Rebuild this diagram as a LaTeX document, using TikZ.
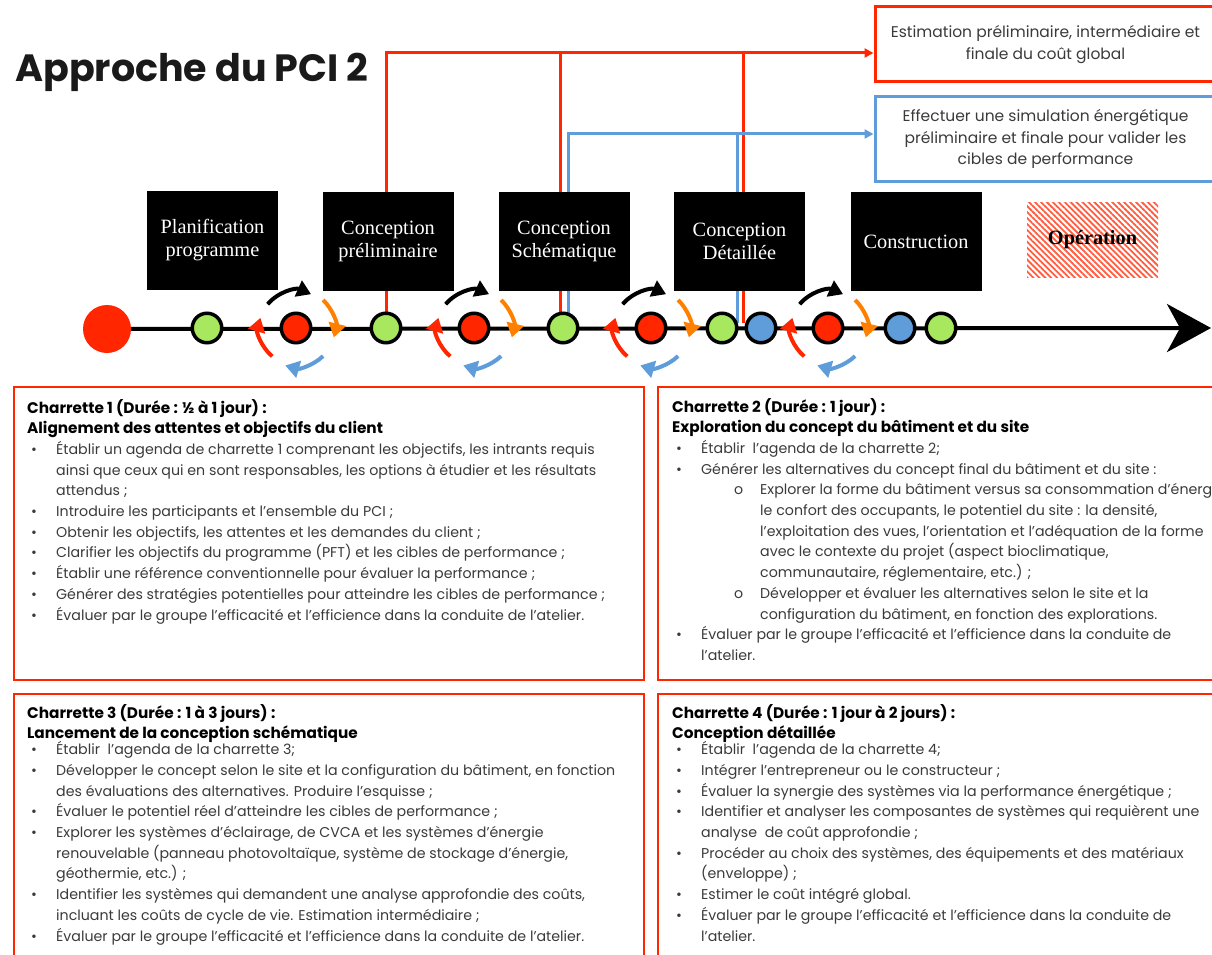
\documentclass[tikz,border=0pt]{standalone}
\usepackage{fontspec}
\setmainfont{Poppins}
\newfontfamily\phasefont{Liberation Serif}
\usetikzlibrary{arrows.meta,patterns.meta,backgrounds}

\definecolor{pcired}{RGB}{255,38,0}
\definecolor{pciblue}{RGB}{94,157,218}
\definecolor{pcigreen}{RGB}{168,232,94}
\definecolor{pciorange}{RGB}{255,128,0}
\definecolor{bodygray}{RGB}{58,58,58}
\definecolor{titlegray}{RGB}{26,26,26}

% list helpers for the charrette boxes
\newcommand{\hd}[1]{\leavevmode{\fontsize{15.3}{20.7}\selectfont\bfseries\color{black}#1}}
\newcommand{\itm}[1]{\makebox[29pt][l]{\hspace{4pt}•}#1}
\newcommand{\cnt}[1]{\hspace*{29pt}#1}
\newcommand{\sitm}[1]{\hspace*{62pt}\makebox[26pt][l]{o}#1}
\newcommand{\scnt}[1]{\hspace*{88pt}#1}
\newcommand{\bodyfont}{\fontsize{14.2}{20.7}\selectfont}

\begin{document}
\begin{tikzpicture}[x=1pt,y=1pt,
  phase/.style={rectangle, fill=black, text=white, minimum width=131pt,
    minimum height=99pt, inner sep=0pt, align=center,
    font=\phasefont\fontsize{20.3}{23}\selectfont},
  oper/.style={rectangle, pattern={Lines[angle=-45,distance=4.2pt,line width=1.8pt]},
    pattern color=pcired!75, minimum width=131pt, minimum height=75pt,
    inner sep=0pt, text=black, font=\phasefont\bfseries\fontsize{20.3}{23}\selectfont},
  dot/.style={circle, draw=black, line width=3.5pt, minimum size=29.5pt, inner sep=0pt},
  bigdot/.style={circle, fill=pcired, minimum size=48pt, inner sep=0pt},
  cyc/.style={line width=4pt, -{Triangle[length=14pt,width=17pt]}},
  link/.style={line width=3pt},
  infobox/.style={rectangle, line width=3pt, inner sep=0pt, align=center,
    text=bodygray, font=\fontsize{15.5}{21.5}\selectfont},
  charbox/.style={draw=pcired, line width=2.5pt},
  chartext/.style={anchor=base west, inner sep=0pt, text=bodygray}
]
\useasboundingbox (0,0) rectangle (1212,-955);
\clip (0,0) rectangle (1212,-955);

% title
\node[anchor=base west, inner sep=0pt, text=titlegray,
  font=\bfseries\fontsize{38}{40}\selectfont] (title) at (15,-82) {Approche du PCI 2};

% deliverable boxes
\node[infobox, draw=pcired, minimum width=341pt, minimum height=75pt] (cost)
  at (1045.5,-44.5) {Estimation préliminaire, intermédiaire et\\finale du coût global};
\node[infobox, draw=pciblue, minimum width=341pt, minimum height=84pt] (sim)
  at (1045.5,-139) {Effectuer une simulation énergétique\\préliminaire et finale pour valider les\\cibles de performance};
\coordinate (costin) at (873.5,-53);
\coordinate (simin) at (873.5,-134);

% project phases
\node[phase] (p1) at (212.5,-240.5) {Planification\\programme};
\node[phase] (p2) at (388,-241.5) {Conception\\préliminaire};
\node[phase] (p3) at (564,-241.5) {Conception\\Schématique};
\node[phase] (p4) at (739.5,-241.5) {Conception\\Détaillée};
\node[phase] (p5) at (916,-241.5) {Construction};
\node[oper] (p6) at (1092.5,-239.5) {Opération};

% timeline milestones
\node[bigdot] (start) at (107,-329) {};
\node[dot, fill=pcigreen] (g1) at (207,-328) {};
\node[dot, fill=pcired]   (r1) at (296,-328) {};
\node[dot, fill=pcigreen] (g2) at (386,-328) {};
\node[dot, fill=pcired]   (r2) at (474,-328) {};
\node[dot, fill=pcigreen] (g3) at (563,-328) {};
\node[dot, fill=pcired]   (r3) at (651,-328) {};
\node[dot, fill=pcigreen] (g4) at (722,-328) {};
\node[dot, fill=pciblue]  (b1) at (761,-328) {};
\node[dot, fill=pcired]   (r4) at (828,-328) {};
\node[dot, fill=pciblue]  (b2) at (900,-328) {};
\node[dot, fill=pcigreen] (g5) at (941,-328) {};
\coordinate (tlend) at (1211,-328);

% branch points of the feedback links
\coordinate (jA) at (560,-53);  \coordinate (fA) at (560,-328);
\coordinate (jE) at (743,-53);  \coordinate (fE) at (743,-323);
\coordinate (fB) at (568,-328);
\coordinate (jD) at (737,-134); \coordinate (fD) at (737,-323);

\begin{scope}[on background layer]
  \draw[line width=4pt, -{Stealth[length=44pt,width=48pt,inset=13pt]}] (start.center) -- (tlend);
  \draw[link, pcired, -{Triangle[length=9pt,width=9pt]}] (g2.north) |- (costin);
  \draw[link, pcired] (fA) -- (jA);
  \draw[link, pcired] (fE) -- (jE);
  \draw[link, pciblue, -{Triangle[length=9pt,width=9pt]}] (fB) |- (simin);
  \draw[link, pciblue] (fD) -- (jD);
\end{scope}

% iteration cycles around each charrette
\foreach \r in {r1,r2,r3,r4}{
  \draw[cyc, black] ([shift={(140:37)}]\r.center) arc[start angle=140, end angle=66, radius=37];
  \draw[cyc, pciorange] ([shift={(46:39)}]\r.center) arc[start angle=46, end angle=-14, radius=39];
  \draw[cyc, pciblue] ([shift={(-46:39)}]\r.center) arc[start angle=-46, end angle=-106, radius=39];
  \draw[cyc, pcired] ([shift={(-130:37)}]\r.center) arc[start angle=-130, end angle=-196, radius=37];
}

% charrette boxes
\draw[charbox] (14,-387) rectangle (644,-680);
\draw[charbox] (658,-387) rectangle (1230,-680);
\draw[charbox] (14,-694) rectangle (644,-975);
\draw[charbox] (658,-694) rectangle (1230,-975);

\node[chartext] (c1) at (27,-413) {\parbox[t]{900pt}{\raggedright\bodyfont
\hd{Charrette 1 (Durée : ½ à 1 jour) :}\\
\hd{Alignement des attentes et objectifs du client}\\
\itm{Établir un agenda de charrette 1 comprenant les objectifs, les intrants requis}\\
\cnt{ainsi que ceux qui en sont responsables, les options à étudier et les résultats}\\
\cnt{attendus ;}\\
\itm{Introduire les participants et l’ensemble du PCI ;}\\
\itm{Obtenir les objectifs, les attentes et les demandes du client ;}\\
\itm{Clarifier les objectifs du programme (PFT) et les cibles de performance ;}\\
\itm{Établir une référence conventionnelle pour évaluer la performance ;}\\
\itm{Générer des stratégies potentielles pour atteindre les cibles de performance ;}\\
\itm{Évaluer par le groupe l’efficacité et l’efficience dans la conduite de l’atelier.}}};

\node[chartext] (c2) at (672,-412) {\parbox[t]{900pt}{\raggedright\bodyfont
\hd{Charrette 2 (Durée : 1 jour) :}\\
\hd{Exploration du concept du bâtiment et du site}\\
\itm{Établir\ \ l’agenda de la charrette 2;}\\
\itm{Générer les alternatives du concept final du bâtiment et du site :}\\
\sitm{Explorer la forme du bâtiment versus sa consommation d’énergie,}\\
\scnt{le confort des occupants, le potentiel du site : la densité,}\\
\scnt{l’exploitation des vues, l’orientation et l’adéquation de la forme}\\
\scnt{avec le contexte du projet (aspect bioclimatique,}\\
\scnt{communautaire, réglementaire, etc.) ;}\\
\sitm{Développer et évaluer les alternatives selon le site et la}\\
\scnt{configuration du bâtiment, en fonction des explorations.}\\
\itm{Évaluer par le groupe l’efficacité et l’efficience dans la conduite de}\\
\cnt{l’atelier.}}};

\node[chartext] (c3) at (27,-718) {\parbox[t]{900pt}{\raggedright\bodyfont
\hd{Charrette 3 (Durée : 1 à 3 jours) :}\\
\hd{Lancement de la conception schématique}\\[-4.7pt]
\itm{Établir\ \ l’agenda de la charrette 3;}\\
\itm{Développer le concept selon le site et la configuration du bâtiment, en fonction}\\
\cnt{des évaluations des alternatives. Produire l’esquisse ;}\\
\itm{Évaluer le potentiel réel d’atteindre les cibles de performance ;}\\
\itm{Explorer les systèmes d’éclairage, de CVCA et les systèmes d’énergie}\\
\cnt{renouvelable (panneau photovoltaïque, système de stockage d’énergie,}\\
\cnt{géothermie, etc.) ;}\\
\itm{Identifier les systèmes qui demandent une analyse approfondie des coûts,}\\
\cnt{incluant les coûts de cycle de vie. Estimation intermédiaire ;}\\
\itm{Évaluer par le groupe l’efficacité et l’efficience dans la conduite de l’atelier.}}};

\node[chartext] (c4) at (672,-718) {\parbox[t]{900pt}{\raggedright\bodyfont
\hd{Charrette 4 (Durée : 1 jour à 2 jours) :}\\
\hd{Conception détaillée}\\[-4.7pt]
\itm{Établir\ \ l’agenda de la charrette 4;}\\
\itm{Intégrer l’entrepreneur ou le constructeur ;}\\
\itm{Évaluer la synergie des systèmes via la performance énergétique ;}\\
\itm{Identifier et analyser les composantes de systèmes qui requièrent une}\\
\cnt{analyse\ \ de coût approfondie ;}\\
\itm{Procéder au choix des systèmes, des équipements et des matériaux}\\
\cnt{(enveloppe) ;}\\
\itm{Estimer le coût intégré global.}\\
\itm{Évaluer par le groupe l’efficacité et l’efficience dans la conduite de}\\
\cnt{l’atelier.}}};
\end{tikzpicture}
\end{document}
